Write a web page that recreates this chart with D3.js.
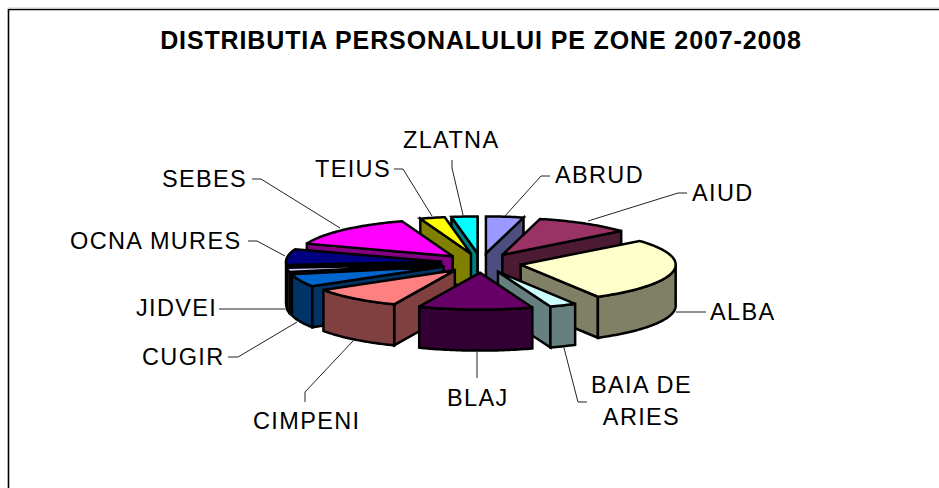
<!DOCTYPE html>
<html>
<head>
<meta charset="utf-8">
<script src="https://cdn.jsdelivr.net/npm/d3@7"></script>
<style>
  html, body { margin: 0; padding: 0; background: #fff; overflow: hidden; }
  text { font-family: "Liberation Sans", Arial, sans-serif; fill: #000; }
</style>
</head>
<body>
<svg id="chart" width="939" height="488"></svg>
<script>
const TITLE = "DISTRIBUTIA PERSONALULUI PE ZONE 2007-2008";
const zones = ["ABRUD", "AIUD", "ALBA", "BAIA DE ARIES", "BLAJ", "CIMPENI", "CUGIR", "JIDVEI", "OCNA MURES", "SEBES", "TEIUS", "ZLATNA"];
// share of staff per zone (%)
const shares = [3.9, 10, 27.8, 2.8, 11.9, 9.7, 5.6, 1.9, 6.9, 14.2, 2.6, 2.7];
const colors = ["#9999ff", "#993366", "#ffffcc", "#ccffff", "#660066", "#ff8080", "#0066cc", "#ccccff", "#000080", "#ff00ff", "#ffff00", "#00ffff"];

// label text position and leader line for each zone, same order as zones
const labelLines = [["ABRUD"], ["AIUD"], ["ALBA"], ["BAIA DE", "ARIES"], ["BLAJ"], ["CIMPENI"], ["CUGIR"], ["JIDVEI"], ["OCNA MURES"], ["SEBES"], ["TEIUS"], ["ZLATNA"]];
const labelPos = [[555, 183], [692, 201], [710, 320], [641.5, 393], [447, 406], [253, 429], [142, 365], [136, 316], [70, 249], [162, 187], [315, 177], [403, 148]];
const leaders = [
  [[550, 176], [541, 176], [505, 216]],
  [[687, 193], [678, 193], [588, 221]],
  [[706, 312], [676, 312]],
  [[587, 402], [578, 402], [564, 348]],
  [[477, 378], [477, 351]],
  [[305, 402], [305, 392], [353, 341]],
  [[228, 357], [238, 357], [297, 322]],
  [[219, 309], [285, 309]],
  [[248, 241], [257, 241], [285, 256]],
  [[252, 179], [261, 179], [340, 228]],
  [[394, 169], [403, 169], [432, 216]],
  [[452, 160], [452, 168], [463, 215]]
];

var cx = 481, cy = 263, rx = 155, ry = 37, depth = 41, explode = 0.26;

var svg = d3.select("#chart");

// frame, open on the right and the bottom
svg.append("path").attr("d", "M8.5,488V9.5H939").attr("fill", "none").attr("stroke", "#000").attr("stroke-width", 1.6);
svg.append("line").attr("x1", 8).attr("x2", 939).attr("y1", 8).attr("y2", 8).attr("stroke", "#ccc");

svg.append("text")
  .attr("x", 481).attr("y", 49)
  .attr("text-anchor", "middle")
  .attr("font-size", 25).attr("font-weight", "bold")
  .attr("letter-spacing", 0.88)
  .text(TITLE);

var xScale = d3.scaleLinear().domain([-1, 1]).range([cx - rx, cx + rx]);
var yScale = d3.scaleLinear().domain([-1, 1]).range([cy + ry, cy - ry]);
var line = d3.line();

var slices = d3.pie().sort(null)(shares).map(function (d, i) {
  d.name = zones[i];
  d.color = colors[i];
  d.mid = (d.startAngle + d.endAngle) / 2;
  return d;
});

// back slices first, the front ones paint over them
slices.sort(function (a, b) {
  return Math.cos(b.mid) - Math.cos(a.mid);
});

function rim(d, angle) {
  var ox = explode * Math.sin(d.mid), oy = explode * Math.cos(d.mid);
  return [xScale(ox + Math.sin(angle)), yScale(oy + Math.cos(angle))];
}
function apex(d) {
  return [xScale(explode * Math.sin(d.mid)), yScale(explode * Math.cos(d.mid))];
}
function arcPoints(a0, a1) {
  var n = Math.max(2, Math.ceil((a1 - a0) / 0.02));
  return d3.range(n + 1).map(function (i) {
    return a0 + ((a1 - a0) * i) / n;
  });
}
function drop(p) {
  return [p[0], p[1] + depth];
}
function wall(pts) {
  return line(pts.concat(pts.slice().reverse().map(drop))) + "Z";
}

var pieG = svg.append("g")
  .attr("stroke", "#000").attr("stroke-width", 2.5)
  .attr("stroke-linejoin", "miter").attr("stroke-miterlimit", 3);

slices.forEach(function (d) {
  var g = pieG.append("g");
  var dark = d3.rgb(d.color);
  var shade = d3.rgb(dark.r * 0.5, dark.g * 0.5, dark.b * 0.5).formatHex();
  var c = apex(d);

  if (Math.sin(d.startAngle) < 0) {
    g.append("path").attr("d", wall([c, rim(d, d.startAngle)])).attr("fill", shade);
  }
  if (Math.sin(d.endAngle) > 0) {
    g.append("path").attr("d", wall([c, rim(d, d.endAngle)])).attr("fill", shade);
  }
  var a0 = Math.max(d.startAngle, Math.PI / 2);
  var a1 = Math.min(d.endAngle, (3 * Math.PI) / 2);
  if (a1 > a0) {
    var front = arcPoints(a0, a1).map(function (a) {
      return rim(d, a);
    });
    g.append("path").attr("d", wall(front)).attr("fill", shade);
  }

  var top = [c].concat(arcPoints(d.startAngle, d.endAngle).map(function (a) {
    return rim(d, a);
  }));
  g.append("path").attr("d", line(top) + "Z").attr("fill", d.color);
});

svg.append("g")
  .selectAll("path")
  .data(leaders)
  .join("path")
  .attr("d", function (d) { return line(d); })
  .attr("fill", "none")
  .attr("stroke", "#222")
  .attr("stroke-width", 1);

labelLines.forEach(function (lines, i) {
  var multi = lines.length > 1;
  lines.forEach(function (t, j) {
    svg.append("text")
      .attr("x", labelPos[i][0])
      .attr("y", labelPos[i][1] + j * 32)
      .attr("text-anchor", multi ? "middle" : "start")
      .attr("font-size", 23.5)
      .attr("letter-spacing", 1.35)
      .text(t);
  });
});
</script>
</body>
</html>
